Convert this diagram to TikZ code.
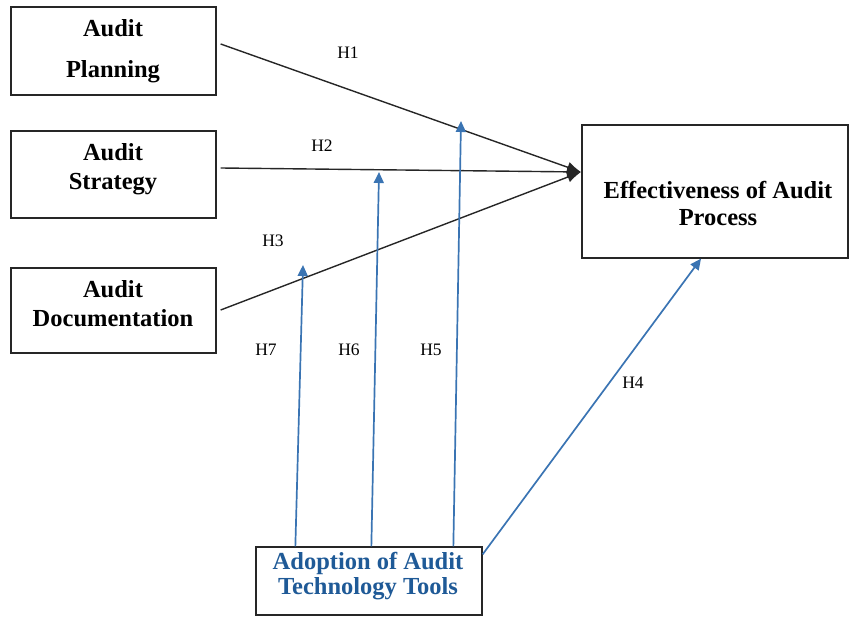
\documentclass[tikz,border=0pt]{standalone}
\usepackage{fontspec}
\setmainfont{Liberation Serif}
\usetikzlibrary{arrows.meta}
\definecolor{bline}{HTML}{3A74B3}
\definecolor{btext}{HTML}{1F5A97}
\begin{document}
\begin{tikzpicture}[x=1pt,y=-1pt,
  box/.style={draw=black!85, line width=1.3pt, inner sep=0pt, fill=white},
  boxtext/.style={align=center, inner sep=0pt, font=\fontsize{24.5}{26}\selectfont\bfseries},
  hlabel/.style={inner sep=0pt, font=\fontsize{17.5}{19}\selectfont},
  blk/.style={draw=black!85, line width=1.4pt, -{Latex[length=14pt,width=11pt]}},
  bl/.style={draw=bline, line width=1.7pt, -{Triangle[length=11pt,width=10pt]}}]
\useasboundingbox (0,0) rectangle (850,617);
% boxes
\node[box, minimum width=205pt, minimum height=88pt] (plan) at (113.5,51) {};
\node[box, minimum width=205pt, minimum height=87pt] (strat) at (113.5,174.5) {};
\node[box, minimum width=205pt, minimum height=85pt] (doc) at (113.5,310.5) {};
\node[box, minimum width=266pt, minimum height=133pt] (eff) at (715,191.5) {};
\node[box, minimum width=226pt, minimum height=68pt] (adopt) at (369,581) {};
% texts
\node[boxtext] (plantxt) at (113,51.5) {Audit\\[15pt]Planning};
\node[boxtext] (strattxt) at (113,169) {Audit\\[3pt]Strategy};
\node[boxtext] (doctxt) at (113,303.5) {Audit\\[3pt]Documentation};
\node[boxtext] (efftxt) at (718,203.5) {Effectiveness of Audit\\[1pt]Process};
\node[boxtext, text=btext] (adopttxt) at (368,576) {Adoption of Audit\\[-1pt]Technology Tools};
% black connectors
\coordinate (tip) at (581,172);
\draw[blk] ([shift={(4,-7)}]plan.east) -- (tip);
\draw[blk] ([shift={(4,-6.5)}]strat.east) -- (tip);
\draw[blk] ([shift={(4,-0.5)}]doc.east) -- (tip);
% blue connectors
\coordinate (t7) at (303,265);
\coordinate (t6) at (379,172);
\coordinate (t5) at (461,121);
\draw[bl] ([xshift=40pt]adopt.north west) -- (t7);
\draw[bl] ([xshift=116pt]adopt.north west) -- (t6);
\draw[bl] ([xshift=198pt]adopt.north west) -- (t5);
\draw[bl] ([yshift=-8pt]adopt.north east) -- ([xshift=-14pt]eff.south);
% labels
\node[hlabel] (h1) at (348,53) {H1};
\node[hlabel] (h2) at (322,146) {H2};
\node[hlabel] (h3) at (273,241) {H3};
\node[hlabel] (h7) at (266,350) {H7};
\node[hlabel] (h6) at (349,350) {H6};
\node[hlabel] (h5) at (431,350) {H5};
\node[hlabel] (h4) at (633,383) {H4};
\end{tikzpicture}
\end{document}
